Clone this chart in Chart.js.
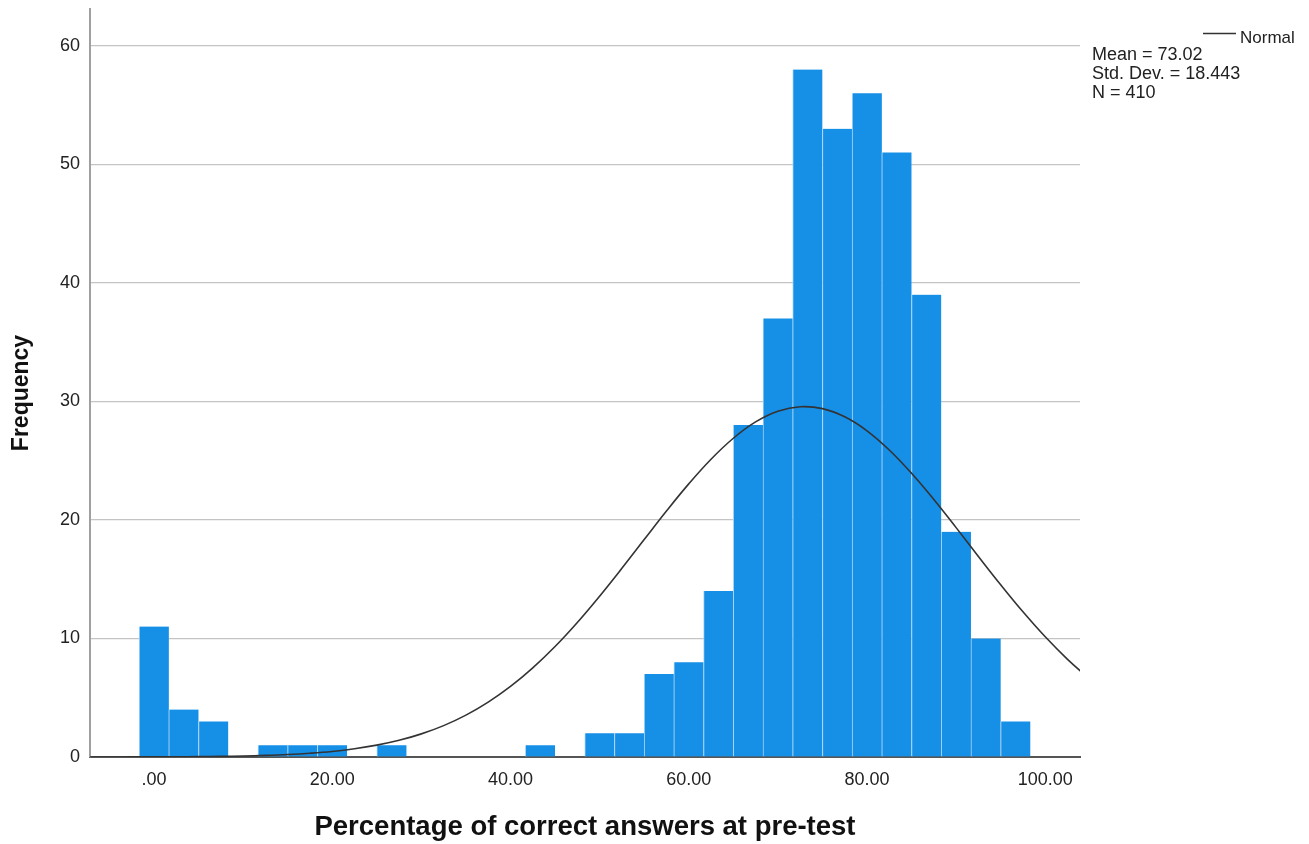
<!DOCTYPE html>
<html>
<head>
<meta charset="utf-8">
<script src="https://cdn.jsdelivr.net/npm/chart.js@4"></script>
<style>
  html, body { margin: 0; padding: 0; background: #ffffff; }
  #wrap { position: relative; width: 1309px; height: 844px; }
  canvas { display: block; }
</style>
</head>
<body>
<div id="wrap"><canvas id="c" width="1309" height="844"></canvas></div>
<script>
// ---- Data ----
const binCenters = [0, 3.333, 6.667, 10, 13.333, 16.667, 20, 23.333, 26.667, 30,
                    33.333, 36.667, 40, 43.333, 46.667, 50, 53.333, 56.667, 60, 63.333,
                    66.667, 70, 73.333, 76.667, 80, 83.333, 86.667, 90, 93.333, 96.667];
const frequencies = [11, 4, 3, 0, 1, 1, 1, 0, 1, 0,
                     0, 0, 0, 1, 0, 2, 2, 7, 8, 14,
                     28, 37, 58, 53, 56, 51, 39, 19, 10, 3];
const normalX = [-7.5, -5, -2.5, 0, 2.5, 5, 7.5, 10, 12.5, 15, 17.5, 20, 22.5, 25, 27.5, 30,
                 32.5, 35, 37.5, 40, 42.5, 45, 47.5, 50, 52.5, 55, 57.5, 60, 62.5, 65, 67.5, 70,
                 72.5, 75, 77.5, 80, 82.5, 85, 87.5, 90, 92.5, 95, 97.5, 100, 102.5, 105];
const normalY = [0.002, 0.004, 0.007, 0.012, 0.020, 0.033, 0.054, 0.086, 0.136, 0.21, 0.318, 0.47, 0.694, 1.0, 1.406, 1.95,
                 2.646, 3.53, 4.627, 5.95, 7.518, 9.32, 11.35, 13.57, 15.92, 18.34, 20.75, 23.04, 25.12, 26.89, 28.27, 29.17,
                 29.55, 29.39, 28.70, 27.52, 25.90, 23.93, 21.72, 19.35, 16.92, 14.53, 12.25, 10.14, 8.24, 6.57];
const xTicks = [0, 20, 40, 60, 80, 100];
const yTicks = [0, 10, 20, 30, 40, 50, 60];
const statsLines = ['Mean = 73.02', 'Std. Dev. = 18.443', 'N = 410'];
const legendLabel = 'Normal';
const xTitle = 'Percentage of correct answers at pre-test';
const yTitle = 'Frequency';

const FONT = "'Liberation Sans', Arial, sans-serif";

const textPlugin = {
  id: 'spssText',
  afterDraw(chart) {
    const ctx = chart.ctx;
    ctx.save();
    // legend line + label
    ctx.strokeStyle = '#333333';
    ctx.lineWidth = 1.5;
    ctx.beginPath();
    ctx.moveTo(1203, 33.5);
    ctx.lineTo(1236, 33.5);
    ctx.stroke();
    ctx.fillStyle = '#222222';
    ctx.font = '17px ' + FONT;
    ctx.textBaseline = 'alphabetic';
    ctx.textAlign = 'left';
    ctx.fillText(legendLabel, 1240, 43);
    ctx.font = '18px ' + FONT;
    const base = [60, 79, 98];
    statsLines.forEach((t, i) => ctx.fillText(t, 1092, base[i]));
    // y-axis title
    ctx.translate(22, 393);
    ctx.rotate(-Math.PI / 2);
    ctx.textAlign = 'center';
    ctx.textBaseline = 'middle';
    ctx.fillStyle = '#111111';
    ctx.font = 'bold 23px ' + FONT;
    ctx.fillText(yTitle, 0, 0);
    ctx.restore();
  }
};

new Chart(document.getElementById('c'), {
  type: 'bar',
  data: {
    datasets: [
      {
        type: 'line',
        label: legendLabel,
        data: normalX.map((x, i) => ({ x: x, y: normalY[i] })),
        borderColor: '#333333',
        borderWidth: 1.6,
        pointRadius: 0,
        tension: 0.4,
        fill: false
      },
      {
        type: 'bar',
        label: 'Frequency',
        data: binCenters.map((x, i) => ({ x: x, y: frequencies[i] })),
        backgroundColor: '#168fe7',
        borderColor: '#a9d5f6',
        borderWidth: { left: 1, right: 0, top: 0, bottom: 0 },
        borderSkipped: false,
        barPercentage: 1.0,
        categoryPercentage: 1.0
      }
    ]
  },
  options: {
    responsive: false,
    animation: false,
    devicePixelRatio: 1,
    layout: { padding: { left: 0, right: 229, top: 9, bottom: 0 } },
    plugins: {
      legend: { display: false },
      tooltip: { enabled: false },
      title: { display: false }
    },
    scales: {
      x: {
        type: 'linear',
        min: -7.18,
        max: 103.9,
        offset: false,
        grid: { display: false, drawTicks: false },
        border: { display: true, color: '#555555', width: 2 },
        afterBuildTicks(scale) { scale.ticks = xTicks.map(v => ({ value: v })); },
        ticks: {
          color: '#222222',
          font: { family: FONT, size: 18 },
          padding: 12,
          maxRotation: 0,
          autoSkip: false,
          callback(v) { return v === 0 ? '.00' : Number(v).toFixed(2); }
        },
        title: {
          display: true,
          text: xTitle,
          color: '#111111',
          font: { family: FONT, size: 27.5, weight: 'bold' },
          padding: { top: 0, bottom: 0 }
        },
        afterFit(scale) {
          scale.height = 87;
          scale.paddingLeft = 0;
          scale.paddingRight = 0;
        }
      },
      y: {
        type: 'linear',
        min: 0,
        max: 63.1,
        grid: { color: '#c4c4c4', lineWidth: 1.2, drawTicks: false },
        border: { display: true, color: '#a0a0a0', width: 2 },
        afterBuildTicks(scale) { scale.ticks = yTicks.map(v => ({ value: v })); },
        ticks: {
          color: '#222222',
          font: { family: FONT, size: 18 },
          padding: 10
        },
        title: { display: false },
        afterFit(scale) {
          scale.width = 90;
          scale.paddingTop = 0;
          scale.paddingBottom = 0;
        }
      }
    }
  },
  plugins: [textPlugin]
});
</script>
</body>
</html>
